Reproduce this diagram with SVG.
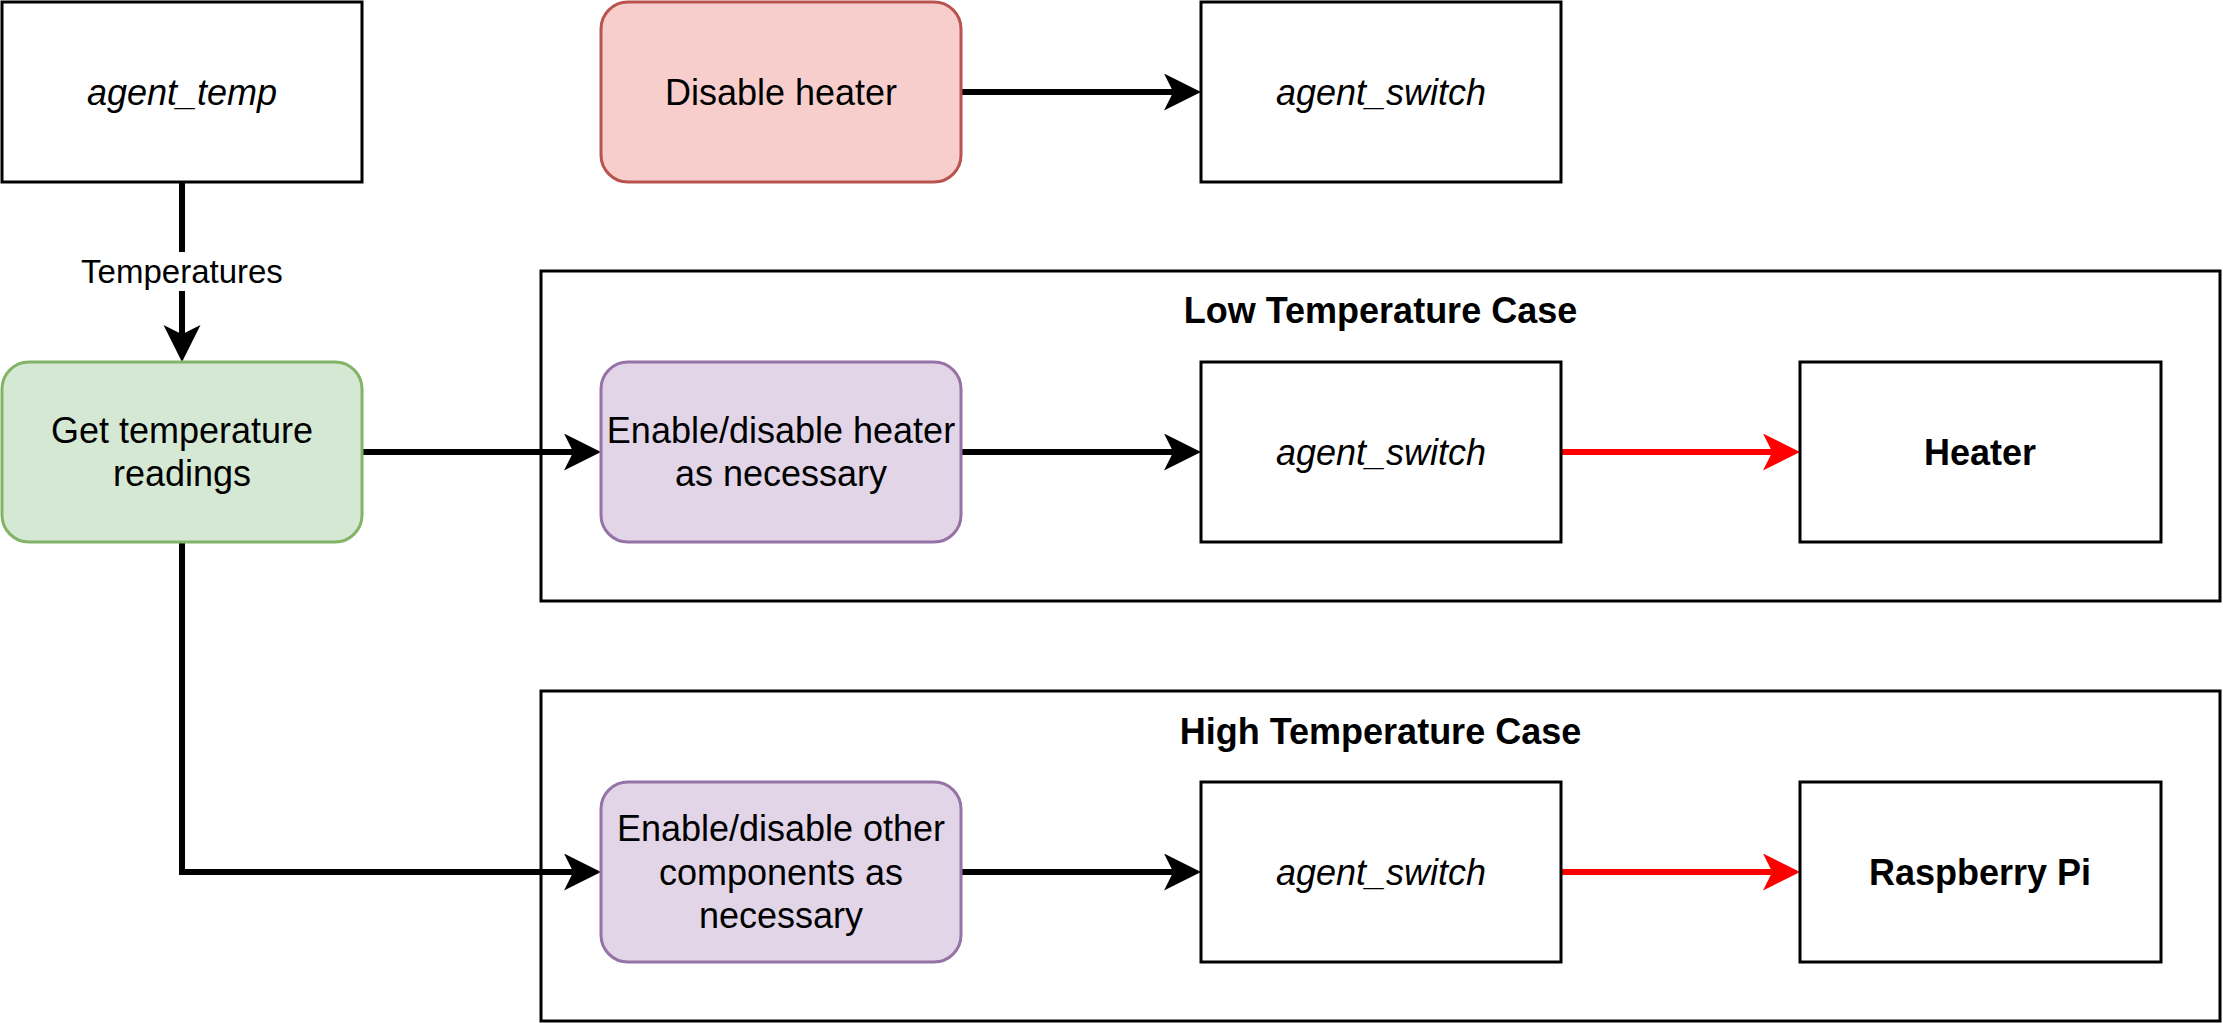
<svg xmlns="http://www.w3.org/2000/svg" width="2223" height="1023" viewBox="0 0 2223 1023">
<style>
text{font-family:"Liberation Sans",Arial,Helvetica,sans-serif;font-size:36px;fill:#000;text-anchor:middle}
.it{font-style:italic}
.b{font-weight:bold}
.box{fill:#fff;stroke:#000;stroke-width:3}
.red{fill:#f8cecc;stroke:#b85450;stroke-width:3}
.green{fill:#d5e8d4;stroke:#82b366;stroke-width:3}
.purple{fill:#e1d5e7;stroke:#9673a6;stroke-width:3}
.cont{fill:none;stroke:#000;stroke-width:3}
.e{fill:none;stroke:#000;stroke-width:6;stroke-linejoin:miter;marker-end:url(#ab)}
.er{fill:none;stroke:#ff0000;stroke-width:6;marker-end:url(#ar)}
.lbl{font-size:33px}
</style>
<defs>
<marker id="ab" markerUnits="userSpaceOnUse" markerWidth="40" markerHeight="40" refX="9.25" refY="18.5" orient="auto" viewBox="0 0 40 40">
<path d="M0,0 L37,18.5 L0,37 L9.25,18.5 Z" fill="#000"/>
</marker>
<marker id="ar" markerUnits="userSpaceOnUse" markerWidth="40" markerHeight="40" refX="9.25" refY="18.5" orient="auto" viewBox="0 0 40 40">
<path d="M0,0 L37,18.5 L0,37 L9.25,18.5 Z" fill="#ff0000"/>
</marker>
</defs>
<rect width="2223" height="1023" fill="#fff"/>
<g id="container-low">
<rect class="cont" x="541" y="271" width="1679" height="330"/>
<text class="b" x="1380.5" y="323">Low Temperature Case</text>
</g>
<g id="container-high">
<rect class="cont" x="541" y="691" width="1679" height="330"/>
<text class="b" x="1380.5" y="744">High Temperature Case</text>
</g>
<g id="connectors">
<path class="e" d="M182,182 V334.25"/>
<rect x="78" y="252" width="208" height="39" fill="#fff"/>
<text class="lbl" x="182" y="282.5">Temperatures</text>
<path class="e" d="M362,452 H573.25"/>
<path class="e" d="M961,452 H1173.25"/>
<path class="er" d="M1561,452 H1772.25"/>
<path class="e" d="M961,92 H1173.25"/>
<path class="e" d="M182,542 V872 H573.25"/>
<path class="e" d="M961,872 H1173.25"/>
<path class="er" d="M1561,872 H1772.25"/>
</g>
<g id="agent-temp">
<rect class="box" x="2" y="2" width="360" height="180"/>
<text class="it" x="182" y="104.5">agent_temp</text>
</g>
<g id="disable-heater">
<rect class="red" x="601" y="2" width="360" height="180" rx="27" ry="27"/>
<text x="781" y="104.5">Disable heater</text>
</g>
<g id="agent-switch-top">
<rect class="box" x="1201" y="2" width="360" height="180"/>
<text class="it" x="1381" y="104.5">agent_switch</text>
</g>
<g id="get-temp">
<rect class="green" x="2" y="362" width="360" height="180" rx="27" ry="27"/>
<text x="182" y="443">Get temperature</text>
<text x="182" y="486">readings</text>
</g>
<g id="enable-heater">
<rect class="purple" x="601" y="362" width="360" height="180" rx="27" ry="27"/>
<text x="781" y="443">Enable/disable heater</text>
<text x="781" y="486">as necessary</text>
</g>
<g id="agent-switch-low">
<rect class="box" x="1201" y="362" width="360" height="180"/>
<text class="it" x="1381" y="464.5">agent_switch</text>
</g>
<g id="heater">
<rect class="box" x="1800" y="362" width="361" height="180"/>
<text class="b" x="1980" y="464.5">Heater</text>
</g>
<g id="enable-other">
<rect class="purple" x="601" y="782" width="360" height="180" rx="27" ry="27"/>
<text x="781" y="841.3">Enable/disable other</text>
<text x="781" y="884.5">components as</text>
<text x="781" y="927.7">necessary</text>
</g>
<g id="agent-switch-high">
<rect class="box" x="1201" y="782" width="360" height="180"/>
<text class="it" x="1381" y="884.5">agent_switch</text>
</g>
<g id="raspberry-pi">
<rect class="box" x="1800" y="782" width="361" height="180"/>
<text class="b" x="1980" y="884.5">Raspberry Pi</text>
</g>
</svg>
